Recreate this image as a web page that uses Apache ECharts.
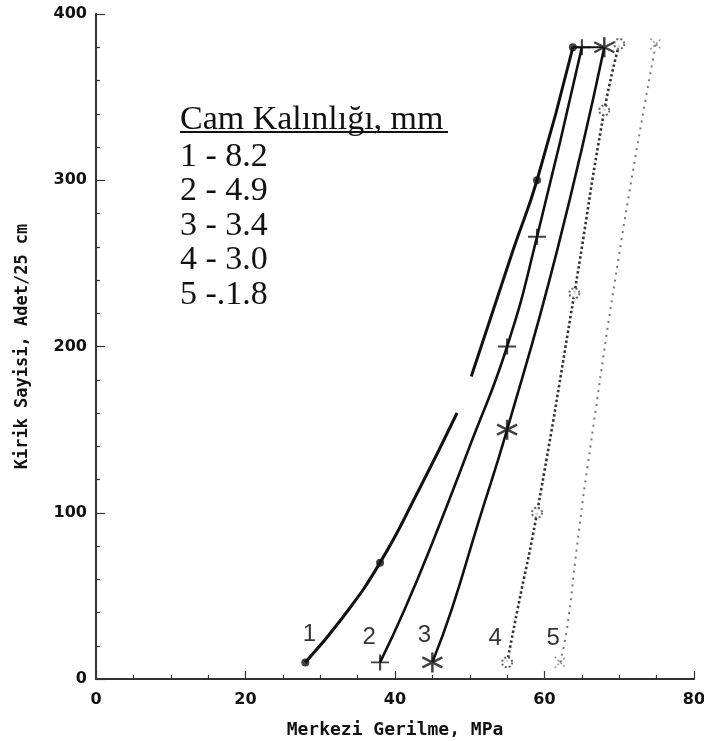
<!DOCTYPE html>
<html>
<head>
<meta charset="utf-8">
<script src="https://cdn.jsdelivr.net/npm/echarts@6/dist/echarts.min.js"></script>
<style>
  html, body { margin: 0; padding: 0; background: #fff; }
  #main { width: 704px; height: 741px; }
</style>
</head>
<body>
<div id="main"></div>
<script>
// curve points (MPa, count)
var curve1a = [[28, 10], [33, 37], [38, 70], [43, 112], [48.3, 160]];
var curve1b = [[50.2, 182], [55.8, 258], [59, 300], [63.8, 380]];
var curve2 = [[38, 10], [41.3, 42], [45, 82], [50, 140], [55, 200], [59, 266], [65, 380]];
var curve3 = [[45, 10], [47.6, 42], [51, 92], [55, 150], [61.7, 258], [68, 380]];
var curve4 = [[55, 10], [56.4, 42], [59, 100], [64, 232], [68, 342], [70, 382]];
var curve5 = [[62.1, 10], [63, 30], [64.3, 78], [65.7, 126], [70.4, 267], [74.9, 382]];
var topJoin = [[63.8, 380], [67.8, 380]];

// measured points (markers)
var marks1 = [[28, 10], [38, 70], [59, 300], [63.8, 380]];
var marks2 = [[38, 10], [55, 200], [59, 266], [65, 380]];
var marks3 = [[45, 10], [55, 150], [68, 380]];
var marks4 = [[55, 10], [59, 100], [64, 232], [68, 342], [70, 382]];
var marks5 = [[62.1, 10], [74.9, 382]];

var curveIds = ['1', '2', '3', '4', '5'];
var thickness = ['8.2', '4.9', '3.4', '3.0', '.1.8'];
var legendTitle = 'Cam Kalınlığı, mm';

var dom = document.getElementById('main');
var myChart = echarts.init(dom, null, { renderer: 'canvas' });

var frameColor = '#333';

function lineSeries(data, width, color, type) {
  return {
    type: 'line',
    data: data,
    smooth: 0.5,
    symbol: 'none',
    silent: true,
    lineStyle: { color: color, width: width, type: type || 'solid' },
    z: 2
  };
}

var labelOffsets = [[4, -28], [-11, -25], [-8, -27], [-12, -24], [-7, -24]];

function markSeries(data, idx, symbol, size, style) {
  return {
    type: 'scatter',
    symbol: symbol,
    symbolSize: size,
    itemStyle: style,
    z: 3,
    data: data.map(function (p, i) {
      if (i > 0) return p;
      return {
        value: p,
        label: {
          show: true,
          formatter: curveIds[idx],
          position: 'inside',
          offset: labelOffsets[idx],
          color: '#000',
          fontFamily: 'Liberation Sans',
          fontSize: 24
        }
      };
    })
  };
}

var graphics = [
  {
    type: 'text', left: 180, top: 103,
    style: { text: legendTitle, font: '34px "Liberation Serif"', fill: '#111' }
  },
  {
    type: 'line', shape: { x1: 180, y1: 132, x2: 448, y2: 132 },
    style: { stroke: '#111', lineWidth: 2 }
  }
];
curveIds.forEach(function (c, i) {
  graphics.push({
    type: 'text', left: 180, top: 140 + i * 34.5,
    style: { text: c + ' -' + (thickness[i].charAt(0) === '.' ? '' : ' ') + thickness[i], font: '34px "Liberation Serif"', fill: '#111' }
  });
});

var option = {
  animation: false,
  backgroundColor: '#fff',
  grid: { left: 96, right: 10, top: 14, bottom: 62, outerBoundsMode: 'none' },
  xAxis: [
    {
      type: 'value', min: 0, max: 80, interval: 20,
      name: 'Merkezi Gerilme, MPa', nameLocation: 'middle', nameGap: 42,
      nameTextStyle: { fontFamily: 'DejaVu Sans Mono', fontWeight: 'bold', fontSize: 18, color: '#111' },
      axisLine: { show: true, lineStyle: { color: frameColor, width: 1.8 } },
      axisTick: { show: true, inside: true, length: 8, lineStyle: { color: frameColor, width: 1.2 } },
      minorTick: { show: true, splitNumber: 4, length: 4, lineStyle: { color: frameColor, width: 1.2 } },
      axisLabel: { margin: 13, fontFamily: 'DejaVu Sans', fontWeight: 'bold', fontSize: 16, color: '#111' },
      splitLine: { show: false }
    },
    {
      type: 'value', min: 0, max: 80, interval: 20, position: 'top',
      axisLine: { show: true, lineStyle: { color: frameColor, width: 1.8 } },
      axisTick: { show: false },
      axisLabel: { show: false }, splitLine: { show: false }
    }
  ],
  yAxis: [
    {
      type: 'value', min: 0, max: 400, interval: 100,
      name: 'Kirik Sayisi, Adet/25 cm', nameLocation: 'middle', nameGap: 65, nameRotate: 90,
      nameTextStyle: { fontFamily: 'DejaVu Sans Mono', fontWeight: 'bold', fontSize: 17, color: '#111' },
      axisLine: { show: true, lineStyle: { color: frameColor, width: 1.8 } },
      axisTick: { show: true, inside: true, length: 9, lineStyle: { color: frameColor, width: 1.2 } },
      minorTick: { show: true, splitNumber: 5, length: 4, lineStyle: { color: frameColor, width: 1.2 } },
      axisLabel: { margin: 9, fontFamily: 'DejaVu Sans', fontWeight: 'bold', fontSize: 16, color: '#111' },
      splitLine: { show: false }
    },
    {
      type: 'value', min: 0, max: 400, interval: 100, position: 'right',
      axisLine: { show: true, lineStyle: { color: frameColor, width: 1.8 } },
      axisTick: { show: false },
      axisLabel: { show: false }, splitLine: { show: false }
    }
  ],
  graphic: graphics,
  series: [
    lineSeries(curve1a, 3, '#111'),
    lineSeries(curve1b, 3, '#111'),
    lineSeries(curve2, 2.6, '#111'),
    lineSeries(curve3, 2.6, '#111'),
    lineSeries(curve4, 2.6, '#333', [2.5, 2.5]),
    lineSeries(curve5, 2, '#777', [2, 5]),
    lineSeries(topJoin, 2, '#111'),
    markSeries(marks1, 0, 'circle', 8, { color: '#111' }),
    markSeries(marks2, 1, 'path://M-10,0L10,0M0,-10L0,10', [18, 16], { color: '#111', borderColor: '#111', borderWidth: 2 }),
    markSeries(marks3, 2, 'path://M0,-10L0,10M-8.66,-5L8.66,5M-8.66,5L8.66,-5', [20, 20], { color: '#111', borderColor: '#111', borderWidth: 2.5 }),
    markSeries(marks4, 3, 'circle', 10, { color: '#fff', borderColor: '#444', borderWidth: 2, borderType: [2, 2] }),
    markSeries(marks5, 4, 'path://M-10,-10L10,10M-10,10L10,-10', [11, 11], { color: '#777', borderColor: '#777', borderWidth: 1.5, borderType: [2, 2] })
  ]
};

if (option && typeof option === 'object') {
  myChart.setOption(option);
}

window.addEventListener('resize', myChart.resize);
</script>
</body>
</html>
